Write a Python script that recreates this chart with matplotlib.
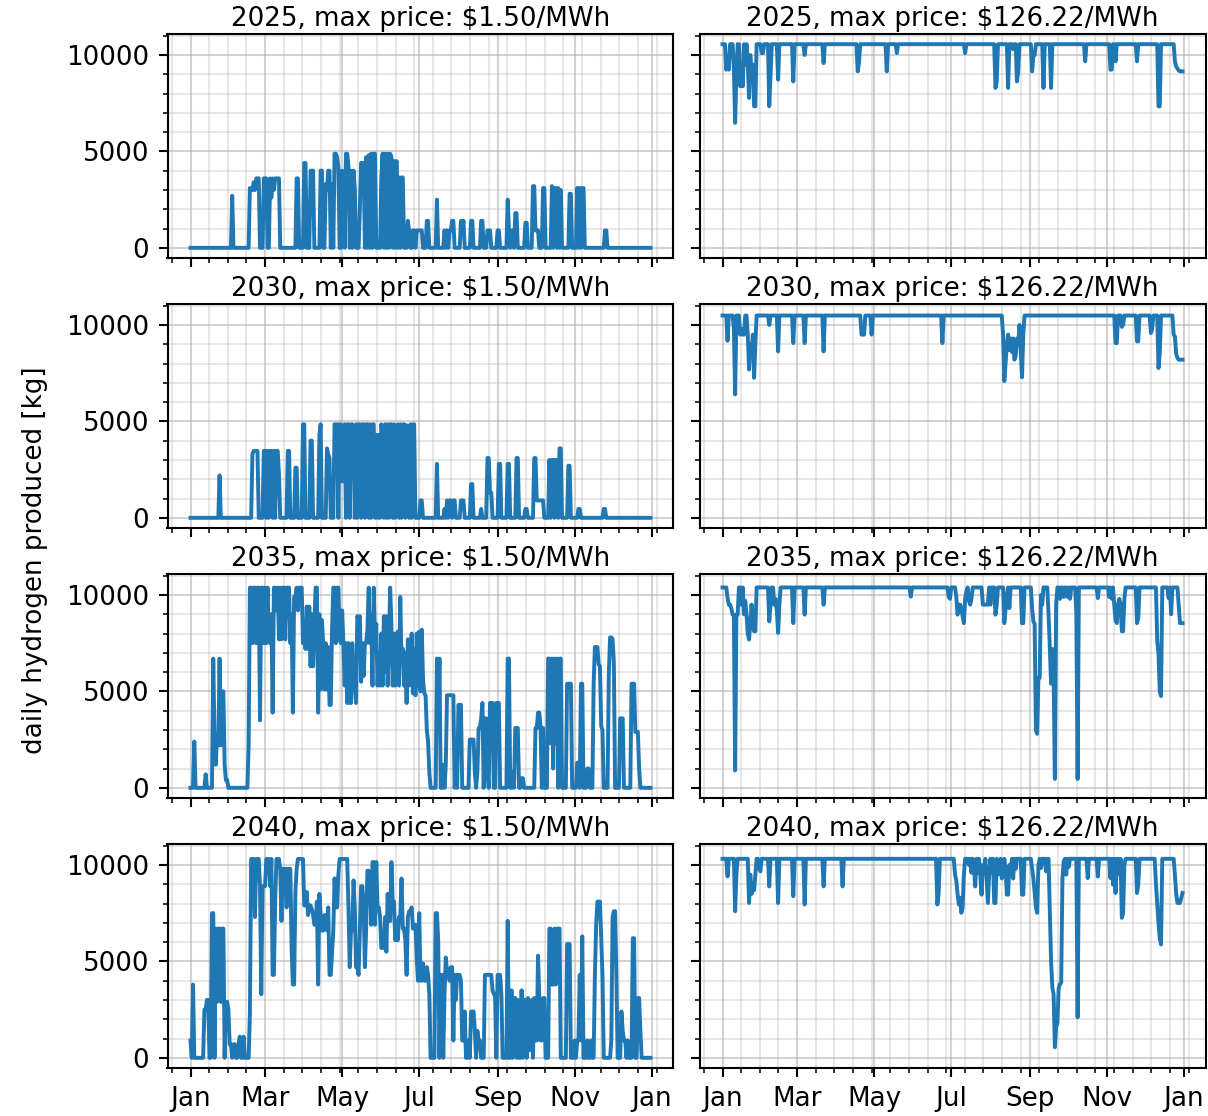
import numpy as np
import pandas as pd
import matplotlib
matplotlib.use("Agg")
import matplotlib.pyplot as plt
import matplotlib.dates as mdates
from matplotlib.ticker import MultipleLocator

# Scenario years (rows) and electricity price caps (columns)
years = [2025, 2030, 2035, 2040]
max_prices = ["1.50", "126.22"]
start_date = "2025-01-01"

# Daily hydrogen production [kg] at the low price cap ($1.50/MWh)
low_2025 = [
    0, 0, 0, 0, 0, 0, 0, 0, 0, 0,
    0, 0, 0, 0, 0, 0, 0, 0, 0, 0,
    0, 0, 0, 0, 0, 0, 0, 0, 0, 0,
    0, 0, 0, 2700, 0, 0, 0, 0, 0, 0,
    0, 0, 0, 0, 0, 0, 0, 3100, 3000, 3000,
    3400, 3000, 3600, 3600, 3600, 0, 0, 0, 3600, 3600,
    3600, 0, 0, 3600, 2600, 3600, 3000, 3600, 3600, 3600,
    3600, 0, 0, 0, 0, 0, 0, 0, 0, 0,
    0, 0, 0, 0, 3600, 3600, 0, 0, 0, 0,
    4400, 4400, 0, 0, 0, 4000, 4000, 4000, 0, 0,
    0, 0, 0, 4000, 4000, 0, 0, 3300, 3000, 4000,
    4000, 0, 3300, 0, 4880, 4880, 4700, 4200, 0, 0,
    4000, 3300, 0, 4880, 4880, 4200, 0, 4000, 0, 4000,
    3100, 0, 0, 0, 2000, 4400, 4400, 4400, 0, 4700,
    0, 4800, 0, 4880, 0, 4880, 4880, 0, 0, 0,
    0, 3650, 4880, 0, 4880, 0, 4880, 0, 4880, 4700,
    0, 4500, 0, 4500, 0, 3650, 0, 3650, 3650, 0,
    0, 0, 1400, 900, 0, 0, 900, 900, 0, 900,
    900, 900, 900, 900, 0, 0, 0, 1400, 1400, 0,
    0, 0, 0, 0, 0, 2500, 0, 0, 0, 0,
    0, 900, 0, 900, 0, 900, 900, 1400, 1400, 0,
    0, 0, 0, 0, 1400, 900, 1400, 0, 0, 0,
    0, 0, 1400, 1400, 0, 0, 0, 0, 0, 0,
    1400, 1400, 0, 0, 0, 900, 900, 900, 0, 0,
    0, 0, 0, 900, 900, 0, 0, 0, 0, 0,
    0, 2500, 900, 0, 900, 900, 0, 1800, 1800, 0,
    0, 0, 0, 0, 0, 1300, 1300, 0, 0, 0,
    0, 3200, 3200, 900, 900, 900, 0, 0, 0, 3100,
    3100, 0, 0, 0, 0, 0, 3200, 0, 3100, 3100,
    0, 3100, 0, 3000, 0, 0, 0, 0, 0, 0,
    2800, 2800, 0, 0, 0, 0, 3100, 0, 3100, 0,
    3100, 3100, 0, 0, 0, 0, 0, 0, 0, 0,
    0, 0, 0, 0, 0, 0, 0, 0, 900, 900,
    0, 0, 0, 0, 0, 0, 0, 0, 0, 0,
    0, 0, 0, 0, 0, 0, 0, 0, 0, 0,
    0, 0, 0, 0, 0, 0, 0, 0, 0, 0,
    0, 0, 0, 0, 0,
]

low_2030 = [
    0, 0, 0, 0, 0, 0, 0, 0, 0, 0,
    0, 0, 0, 0, 0, 0, 0, 0, 0, 0,
    0, 0, 0, 2200, 0, 0, 0, 0, 0, 0,
    0, 0, 0, 0, 0, 0, 0, 0, 0, 0,
    0, 0, 0, 0, 0, 0, 0, 0, 0, 3300,
    3470, 3470, 3470, 3470, 0, 0, 0, 0, 3470, 3470,
    0, 3470, 0, 3470, 3470, 0, 3470, 0, 3470, 3470,
    2300, 0, 0, 0, 0, 0, 0, 3470, 3470, 0,
    0, 0, 0, 2600, 2600, 0, 0, 0, 0, 4850,
    4850, 0, 0, 0, 0, 4000, 4000, 0, 0, 0,
    0, 0, 4300, 4850, 0, 0, 0, 0, 3600, 3300,
    3100, 0, 0, 0, 4850, 4850, 4850, 0, 4850, 4850,
    1900, 1900, 4850, 0, 4850, 4850, 0, 4850, 4850, 4300,
    0, 4850, 0, 4850, 4850, 0, 4850, 4850, 0, 4850,
    4850, 0, 4850, 0, 4850, 4850, 0, 4300, 0, 4300,
    0, 4850, 4300, 0, 4850, 0, 4850, 0, 4850, 4850,
    0, 4850, 0, 4300, 4850, 0, 4850, 0, 4850, 4850,
    0, 4800, 4300, 0, 4850, 0, 4850, 4850, 0, 0,
    0, 0, 900, 900, 0, 0, 0, 0, 0, 0,
    0, 0, 0, 0, 0, 2800, 0, 0, 0, 0,
    0, 460, 0, 900, 0, 900, 900, 0, 900, 900,
    0, 0, 0, 0, 900, 900, 900, 0, 0, 0,
    0, 0, 1750, 1750, 0, 0, 0, 0, 0, 0,
    460, 0, 0, 0, 0, 3100, 3100, 1300, 1300, 0,
    0, 0, 0, 0, 2800, 2800, 0, 0, 0, 0,
    0, 2800, 2800, 0, 0, 0, 0, 0, 3100, 3100,
    0, 0, 0, 0, 0, 460, 460, 0, 0, 0,
    0, 0, 3100, 3100, 900, 900, 900, 900, 900, 900,
    0, 0, 0, 0, 3000, 0, 3000, 3000, 0, 3000,
    3000, 0, 3600, 3600, 0, 0, 0, 0, 0, 2700,
    2700, 0, 0, 0, 0, 0, 0, 460, 460, 0,
    0, 0, 0, 0, 0, 0, 0, 0, 0, 0,
    0, 0, 0, 0, 0, 0, 0, 460, 460, 0,
    0, 0, 0, 0, 0, 0, 0, 0, 0, 0,
    0, 0, 0, 0, 0, 0, 0, 0, 0, 0,
    0, 0, 0, 0, 0, 0, 0, 0, 0, 0,
    0, 0, 0, 0, 0,
]

low_2035 = [
    0, 0, 0, 2400, 0, 0, 0, 0, 0, 0,
    0, 0, 700, 0, 0, 0, 0, 0, 6700, 2600,
    1200, 2800, 2200, 6700, 2200, 5000, 5000, 1200, 400, 400,
    0, 0, 0, 0, 0, 0, 0, 0, 0, 0,
    0, 0, 0, 0, 0, 0, 2200, 10380, 10380, 7500,
    10380, 10380, 7500, 10380, 10380, 3500, 10380, 10380, 7500, 10380,
    7500, 10380, 7700, 7500, 9000, 3900, 10380, 10380, 9200, 10380,
    7700, 10380, 7700, 10380, 10380, 7700, 10380, 10380, 10380, 7500,
    9000, 3900, 9900, 9900, 10380, 9200, 10380, 10380, 10380, 7500,
    7700, 7200, 9400, 7200, 9400, 6300, 9000, 6300, 8500, 10380,
    10380, 3900, 9000, 5100, 8700, 7500, 5100, 7500, 5100, 7300,
    4300, 4300, 8200, 10380, 10380, 7500, 10380, 10380, 7700, 7500,
    9200, 7500, 5300, 7500, 4400, 7500, 4400, 4400, 7500, 5800,
    5300, 4400, 8900, 8700, 8900, 5500, 7500, 5800, 7500, 7500,
    8200, 10380, 7500, 9000, 5300, 10380, 7500, 8500, 5300, 7000,
    5300, 8000, 5300, 8900, 6000, 8900, 5300, 7500, 10380, 8400,
    5300, 8000, 5300, 7600, 8100, 5300, 9900, 6500, 7200, 5300,
    7000, 4400, 7700, 5300, 6300, 8000, 4900, 7200, 4800, 8000,
    5300, 8100, 5000, 8200, 5600, 4900, 4800, 3000, 2400, 800,
    0, 0, 0, 0, 0, 6700, 3000, 6700, 0, 0,
    1200, 0, 1200, 4800, 4800, 4800, 4800, 4800, 4800, 0,
    800, 0, 4300, 4300, 4300, 0, 0, 0, 0, 0,
    0, 2500, 2500, 2500, 2500, 800, 0, 800, 3100, 3100,
    3600, 4400, 0, 3600, 3600, 800, 0, 4400, 4400, 4400,
    0, 0, 4400, 4400, 4400, 0, 0, 0, 0, 0,
    0, 6700, 6700, 0, 0, 800, 0, 3100, 3100, 3100,
    0, 0, 500, 500, 0, 0, 0, 0, 0, 0,
    0, 0, 0, 3100, 3100, 3900, 3900, 3100, 0, 3100,
    0, 0, 0, 6700, 6700, 2300, 6700, 1000, 6700, 2300,
    6700, 0, 6700, 6700, 0, 0, 0, 0, 5400, 5400,
    5400, 5400, 0, 0, 0, 0, 1300, 1300, 0, 5400,
    5400, 0, 0, 0, 1000, 1000, 0, 0, 0, 5400,
    7300, 7300, 7300, 6400, 6300, 3200, 3000, 0, 0, 0,
    0, 5800, 7800, 7800, 7700, 6500, 0, 0, 0, 0,
    3600, 3600, 3600, 0, 0, 0, 0, 0, 0, 5400,
    5400, 5400, 2900, 2900, 2900, 1000, 0, 0, 0, 0,
    0, 0, 0, 0, 0,
]

low_2040 = [
    900, 0, 3800, 0, 0, 0, 0, 0, 0, 0,
    0, 2500, 2500, 3000, 3000, 0, 0, 7500, 7500, 0,
    6700, 2900, 6700, 6700, 2900, 6700, 6700, 0, 2900, 2900,
    2500, 700, 700, 0, 700, 700, 0, 0, 700, 1100,
    0, 0, 1100, 0, 0, 0, 0, 2300, 10310, 10310,
    10310, 7300, 10310, 10310, 10310, 8900, 3300, 8900, 8900, 8900,
    10310, 10310, 10310, 8900, 10310, 4300, 4300, 8100, 10310, 10310,
    10310, 9800, 7100, 9800, 9800, 9800, 7800, 9800, 9800, 9800,
    5700, 3800, 3800, 8600, 9800, 10310, 10310, 10310, 10310, 10310,
    7900, 7900, 8600, 7400, 7900, 7900, 7700, 7400, 6900, 6900,
    8100, 3800, 8500, 7400, 6600, 6600, 7400, 7400, 6600, 7800,
    4300, 4300, 5500, 6600, 9300, 7800, 7800, 9500, 10310, 10310,
    10310, 10310, 10310, 10310, 10310, 7800, 4700, 6600, 6600, 9200,
    7800, 4700, 4700, 4300, 6700, 8900, 8900, 7800, 4700, 6700,
    9700, 9700, 9300, 6900, 10150, 10150, 6900, 10150, 7800, 7800,
    7300, 5700, 5700, 5700, 7300, 5500, 8500, 7100, 7100, 10150,
    8100, 8100, 6100, 7100, 6100, 7300, 7300, 9300, 6700, 6700,
    6100, 4300, 7300, 7600, 7600, 7800, 6700, 6900, 6900, 5200,
    4000, 7500, 4000, 4000, 4900, 4000, 4000, 4700, 4300, 3300,
    0, 0, 0, 0, 7500, 7500, 6100, 0, 4300, 4300,
    0, 3300, 5200, 4500, 4500, 4000, 4700, 4700, 900, 4300,
    3000, 4300, 4300, 4300, 4000, 900, 900, 2400, 0, 0,
    900, 0, 2400, 2400, 2400, 1400, 0, 1400, 900, 900,
    0, 0, 0, 4300, 4300, 4300, 4300, 4300, 4300, 3500,
    3300, 3300, 0, 4300, 4300, 4300, 3300, 0, 0, 0,
    0, 7100, 0, 0, 3500, 0, 3100, 3100, 0, 3000,
    0, 0, 3500, 0, 3000, 3000, 0, 3100, 400, 400,
    3000, 0, 3100, 900, 900, 5300, 3100, 900, 900, 3100,
    3100, 0, 0, 0, 6700, 6700, 3800, 3800, 6700, 3800,
    6700, 6700, 6700, 0, 0, 0, 0, 0, 5900, 5900,
    5900, 0, 0, 0, 900, 0, 900, 900, 4300, 900,
    6300, 0, 0, 0, 900, 0, 0, 900, 0, 0,
    4300, 6900, 8100, 8100, 8100, 6200, 4300, 0, 0, 0,
    0, 0, 0, 900, 7300, 7600, 7600, 4300, 0, 0,
    0, 2400, 1400, 900, 900, 0, 900, 0, 0, 0,
    6200, 6200, 0, 0, 3100, 3100, 1400, 0, 0, 0,
    0, 0, 0, 0, 0,
]

# High price cap ($126.22/MWh): production sits at full capacity except
# on the listed (day-of-year, kg) dates
full_2025 = 10560
dips_2025 = [
    (3, 9240), (4, 9600), (5, 9240), (9, 9300), (10, 6480), (11, 9000),
    (14, 8380), (15, 9300), (16, 8380), (18, 9500), (20, 9500), (21, 7770),
    (22, 10000), (23, 9000), (24, 9500), (25, 7340), (26, 7340),
    (31, 10100), (32, 10100), (37, 7340), (38, 9000), (44, 8720),
    (56, 8630), (65, 10000), (80, 9580), (107, 9150), (108, 9600),
    (130, 9150), (138, 10100), (192, 10100), (216, 8290), (217, 8630),
    (226, 8290), (230, 10300), (233, 8630), (234, 9150), (245, 9150),
    (246, 10000), (247, 10000), (254, 8290), (260, 8290), (287, 9670),
    (307, 9240), (308, 9240), (311, 9670), (328, 9670), (345, 7340),
    (346, 7340), (358, 9670), (359, 9400), (360, 9300), (361, 9200),
    (362, 9150), (363, 9150), (364, 9150),
]

full_2030 = 10490
dips_2030 = [
    (4, 9180), (9, 9800), (10, 6400), (14, 9500), (15, 9800), (16, 9500),
    (17, 9500), (20, 9500), (21, 7690), (22, 9000), (23, 8500), (24, 9500),
    (25, 7260), (26, 9000), (37, 10000), (44, 8630), (56, 9060), (65, 9060),
    (80, 8630), (110, 9500), (111, 9500), (112, 9500), (118, 9500),
    (174, 9060), (222, 9500), (223, 7090), (224, 8000), (225, 9000),
    (226, 9500), (227, 8700), (228, 9300), (229, 8600), (230, 9300),
    (231, 8200), (232, 8400), (233, 9300), (234, 9000), (235, 10000),
    (236, 8600), (237, 7290), (238, 9500), (311, 9060), (312, 9060),
    (316, 9900), (317, 10000), (328, 9150), (329, 9150), (339, 9580),
    (340, 9800), (345, 7770), (346, 8500), (357, 9500), (358, 9400),
    (359, 8500), (360, 8300), (361, 8200), (362, 8200), (363, 8200),
    (364, 8200),
]

full_2035 = 10390
dips_2035 = [
    (4, 9840), (5, 9500), (6, 9500), (7, 9300), (8, 8980), (9, 8980),
    (10, 900), (11, 8980), (12, 8980), (15, 9500), (17, 9000), (18, 9700),
    (19, 9000), (20, 8000), (21, 7690), (22, 8500), (23, 9500), (24, 8500),
    (25, 8120), (26, 8120), (37, 8630), (38, 9500), (41, 9500), (42, 9800),
    (43, 9200), (44, 8030), (45, 9500), (56, 8540), (65, 8980), (80, 9500),
    (149, 9920), (179, 9900), (180, 9800), (185, 9900), (186, 8980),
    (187, 9500), (188, 9500), (189, 9300), (190, 8900), (191, 8540),
    (192, 9800), (193, 10200), (195, 9700), (196, 9500), (197, 9800),
    (206, 9500), (207, 9500), (208, 9500), (209, 9500), (210, 9500),
    (212, 9500), (216, 8980), (217, 9500), (223, 8540), (224, 9300),
    (225, 10000), (227, 9320), (237, 8540), (238, 8540), (245, 9300),
    (246, 8630), (247, 8500), (248, 3000), (249, 2800), (250, 5710),
    (251, 5710), (252, 10000), (253, 9500), (258, 9000), (259, 7300),
    (260, 5400), (261, 7200), (262, 6000), (263, 460), (264, 9500),
    (267, 9800), (270, 9900), (273, 9900), (275, 9800), (280, 9000),
    (281, 460), (297, 9840), (306, 9900), (308, 9800), (310, 9500),
    (311, 8700), (312, 8540), (313, 9500), (314, 9800), (315, 9500),
    (316, 8120), (317, 8120), (318, 9800), (328, 8540), (329, 8800),
    (344, 7600), (345, 7000), (346, 5000), (347, 4760), (353, 9840),
    (355, 9000), (361, 9500), (362, 8540), (363, 8540), (364, 8540),
]

full_2040 = 10320
dips_2040 = [
    (4, 9410), (10, 7600), (11, 9500), (21, 8030), (22, 9500), (23, 8500),
    (24, 8700), (25, 8700), (26, 9500), (29, 9840), (30, 9670), (37, 8890),
    (44, 8030), (56, 8380), (65, 7950), (80, 8890), (95, 8890), (170, 7950),
    (171, 8500), (184, 9500), (185, 9200), (186, 8500), (187, 7950),
    (188, 8300), (189, 7520), (190, 7800), (191, 9500), (195, 10000),
    (197, 9600), (199, 9800), (200, 8890), (202, 9600), (204, 9500),
    (205, 8460), (206, 10000), (207, 9600), (209, 9300), (210, 8030),
    (211, 9500), (213, 9600), (215, 8030), (216, 8030), (218, 9500),
    (219, 9800), (221, 9300), (222, 9500), (224, 9800), (225, 8460),
    (226, 8460), (227, 10000), (228, 9500), (230, 9300), (232, 9800),
    (237, 8460), (238, 8460), (245, 9800), (246, 9300), (247, 8600),
    (248, 7800), (249, 7520), (250, 10000), (252, 9840), (256, 9670),
    (259, 7770), (260, 5000), (261, 3650), (262, 3300), (263, 550),
    (264, 1600), (265, 1800), (266, 3600), (267, 3820), (268, 3900),
    (269, 9300), (270, 10200), (272, 9500), (274, 9900), (281, 2100),
    (289, 9320), (297, 9400), (307, 9320), (309, 8980), (311, 8550),
    (314, 9500), (316, 7260), (317, 7500), (318, 10000), (328, 8550),
    (329, 9000), (343, 9000), (344, 8000), (345, 7000), (346, 6200),
    (347, 5880), (358, 9500), (359, 8500), (360, 8030), (361, 8030),
    (362, 8030), (363, 8300), (364, 8550),
]


def high_cap_series(full_value, dips, n_days=365):
    values = [full_value] * n_days
    for day, kg in dips:
        values[day] = kg
    return values


low_series = [low_2025, low_2030, low_2035, low_2040]
high_series = [
    high_cap_series(full_2025, dips_2025),
    high_cap_series(full_2030, dips_2030),
    high_cap_series(full_2035, dips_2035),
    high_cap_series(full_2040, dips_2040),
]

# Figure geometry
W, H, DPI = 1208, 1116, 188
fig = plt.figure(figsize=(W / DPI, H / DPI), dpi=DPI)
col_left_px = [167.5, 699.5]
ax_w_px, ax_h_px = 506, 224
row_bottom_px = [258, 528, 798, 1068]

line_color = "#1f77b4"
axes = np.empty((4, 2), dtype=object)
base = None
for r in range(4):
    for c in range(2):
        rect = [col_left_px[c] / W, 1 - row_bottom_px[r] / H, ax_w_px / W, ax_h_px / H]
        ax = fig.add_axes(rect, sharex=base, sharey=base)
        if base is None:
            base = ax
        axes[r, c] = ax

for r, year in enumerate(years):
    for c, price in enumerate(max_prices):
        ax = axes[r, c]
        vals = low_series[r] if c == 0 else high_series[r]
        dates = pd.date_range(start_date, periods=len(vals), freq="D")
        ax.plot(dates, vals, color=line_color, lw=1.5)
        ax.set_title(f"{year}, max price: \\${price}/MWh", fontsize=10, pad=3)

base.xaxis.set_major_locator(mdates.MonthLocator(bymonth=[1, 3, 5, 7, 9, 11]))
base.xaxis.set_major_formatter(mdates.DateFormatter("%b"))
base.yaxis.set_major_locator(MultipleLocator(5000))

for r in range(4):
    for c in range(2):
        ax = axes[r, c]
        ax.minorticks_on()
        ax.grid(which="major", color="#b0b0b0", alpha=0.55, lw=0.8)
        ax.grid(which="minor", color="#b0b0b0", alpha=0.3, lw=0.8)
        ax.set_axisbelow(True)
        if r < 3:
            ax.tick_params(labelbottom=False)
        if c == 1:
            ax.tick_params(labelleft=False)

fig.text(35 / W, 1 - 560 / H, "daily hydrogen produced [kg]",
         rotation=90, ha="center", va="center", fontsize=10)

fig.savefig("out.png", dpi=DPI)
